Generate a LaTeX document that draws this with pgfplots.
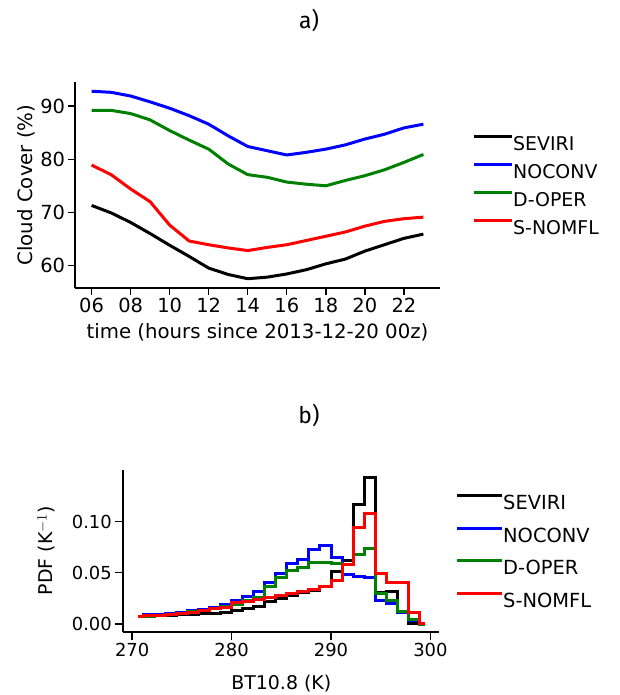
\documentclass[border=0pt]{standalone}
\usepackage{pgfplots}
\pgfplotsset{compat=1.18}
\usepackage{pgfplotstable}
\usepackage{fontspec}
\setmainfont{DejaVu Sans}
\newfontfamily\titlefont{Fira Sans}
\definecolor{mblue}{RGB}{0,0,255}
\definecolor{mgreen}{RGB}{0,128,0}
\definecolor{mred}{RGB}{255,0,0}

\pgfplotstableread{
h  sev   noc   dop   snm
6  71.3  92.8  89.2  78.9
7  69.9  92.6  89.2  77.1
8  68.1  91.9  88.6  74.4
9  66.0  90.8  87.4  72.0
10 63.8  89.6  85.4  67.6
11 61.7  88.2  83.6  64.6
12 59.5  86.6  81.9  63.9
13 58.3  84.4  79.1  63.3
14 57.5  82.4  77.1  62.8
15 57.8  81.6  76.6  63.4
16 58.4  80.8  75.7  63.9
17 59.2  81.3  75.3  64.7
18 60.3  81.9  75.0  65.5
19 61.2  82.7  76.0  66.3
20 62.7  83.8  76.9  67.4
21 63.9  84.7  78.0  68.3
22 65.1  85.9  79.4  68.8
23 65.9  86.6  80.9  69.1
}\cloud

\pgfplotstableread{
x        sev     noc     dop     snm
270.556  0.0075  0.0078  0.0070  0.0075
271.667  0.0078  0.0088  0.0078  0.0080
272.778  0.0080  0.0095  0.0085  0.0085
273.889  0.0085  0.0105  0.0095  0.0095
275.000  0.0090  0.0115  0.0105  0.0105
276.111  0.0095  0.0130  0.0120  0.0115
277.222  0.0100  0.0145  0.0130  0.0130
278.333  0.0103  0.0165  0.0150  0.0150
279.444  0.0110  0.0190  0.0170  0.0165
280.556  0.0130  0.0230  0.0190  0.0210
281.667  0.0153  0.0265  0.0230  0.0220
282.778  0.0175  0.0316  0.0260  0.0240
283.889  0.0218  0.0404  0.0365  0.0255
285.000  0.0250  0.0495  0.0456  0.0275
286.111  0.0283  0.0593  0.0527  0.0295
287.222  0.0306  0.0625  0.0555  0.0315
288.333  0.0330  0.0723  0.0600  0.0340
289.444  0.0365  0.0771  0.0600  0.0370
290.556  0.0510  0.0650  0.0595  0.0420
291.667  0.0620  0.0480  0.0580  0.0580
292.778  0.1170  0.0465  0.0680  0.0940
293.889  0.1430  0.0455  0.0740  0.1080
295.000  0.0310  0.0230  0.0300  0.0495
296.111  0.0320  0.0200  0.0230  0.0410
297.222  0.0120  0.0110  0.0120  0.0410
298.333  0.0005  0.0030  0.0040  0.0110
299.444  0.0003  0.0000  0.0000  0.0007
}\pdf

\pgfplotsset{
  myaxis/.style={
    scale only axis,
    axis x line*=bottom, axis y line*=left,
    axis line style={line width=1.6bp, black},
    tick align=outside,
    major tick length=6.5bp,
    every tick/.style={line width=1.4bp, black},
    minor tick num=0,
    /pgf/number format/assume math mode=true,
    legend cell align=left,
    clip=false,
  }
}

\begin{document}
\begin{tikzpicture}
\useasboundingbox (0bp,0bp) rectangle (620bp,695bp);

% ---------------- panel a ----------------
\begin{scope}[shift={(75bp,406.7bp)}]
\begin{axis}[myaxis,
  at={(0bp,0bp)}, anchor=south west,
  width=365bp, height=206.6bp,
  xmin=5.15, xmax=23.85, ymin=55.7, ymax=94.6,
  xtick={6,8,10,12,14,16,18,20,22},
  xticklabels={06,08,10,12,14,16,18,20,22},
  ytick={60,70,80,90},
  tick label style={font=\fontsize{19.5}{19.5}\selectfont},
  xlabel={time (hours since 2013-12-20 00z)},
  ylabel={Cloud Cover (\%)},
  label style={font=\fontsize{19.8}{19.8}\selectfont},
  xlabel style={at={(axis description cs:0.5,-0.242)}, anchor=base},
  ylabel style={at={(axis description cs:-0.1151,0.5)}, anchor=base},
  legend style={at={(axis description cs:1.0877,0.5)}, anchor=west,
    draw=none, fill=none, inner sep=0pt,
    font=\fontsize{19}{19}\selectfont,
    nodes={inner sep=0pt, text height=13.9bp, text depth=0bp},
    row sep=12.7bp,
    /tikz/every even column/.append style={column sep=13bp}},
  legend image code/.code={\draw[#1,line width=3bp] (0bp,7bp) -- (38bp,7bp);},
]
\addplot[black, line width=3bp, line join=round] table[x=h,y=sev] {\cloud};
\addlegendentry{SEVIRI}
\addplot[mblue, line width=3bp, line join=round] table[x=h,y=noc] {\cloud};
\addlegendentry{NOCONV}
\addplot[mgreen, line width=3bp, line join=round] table[x=h,y=dop] {\cloud};
\addlegendentry{D-OPER}
\addplot[mred, line width=3bp, line join=round] table[x=h,y=snm] {\cloud};
\addlegendentry{S-NOMFL}
\end{axis}
\end{scope}

% ---------------- panel b ----------------
\begin{scope}[shift={(123.3bp,63.3bp)}]
\begin{axis}[myaxis,
  at={(0bp,0bp)}, anchor=south west,
  width=316bp, height=161.7bp,
  xmin=269.11, xmax=300.89, ymin=-0.0075, ymax=0.1503,
  xtick={270,280,290,300},
  ytick={0,0.05,0.10},
  yticklabel style={/pgf/number format/.cd, fixed, fixed zerofill, precision=2},
  major tick length=8bp,
  tick label style={font=\fontsize{18}{18}\selectfont},
  xlabel={BT10.8 (K)},
  ylabel={PDF (K$^{-1}$)},
  label style={font=\fontsize{19}{19}\selectfont},
  xlabel style={at={(axis description cs:0.5,-0.3605)}, anchor=base},
  ylabel style={at={(axis description cs:-0.2225,0.5)}, anchor=base},
  legend style={at={(axis description cs:1.0497,0.5)}, anchor=west,
    draw=none, fill=none, inner sep=0pt,
    font=\fontsize{19.5}{19.5}\selectfont,
    nodes={inner sep=0pt, text height=14.2bp, text depth=0bp},
    row sep=17.1bp,
    /tikz/every even column/.append style={column sep=15bp}},
  legend image code/.code={\draw[#1,line width=3bp] (0bp,7bp) -- (45bp,7bp);},
]
\addplot[black, line width=3bp, const plot mark mid, line join=miter] table[x=x,y=sev] {\pdf};
\addlegendentry{SEVIRI}
\addplot[mblue, line width=3bp, const plot mark mid, line join=miter] table[x=x,y=noc] {\pdf};
\addlegendentry{NOCONV}
\addplot[mgreen, line width=3bp, const plot mark mid, line join=miter] table[x=x,y=dop] {\pdf};
\addlegendentry{D-OPER}
\addplot[mred, line width=3bp, const plot mark mid, line join=miter] table[x=x,y=snm] {\pdf};
\addlegendentry{S-NOMFL}
\end{axis}
\end{scope}

\node[font=\titlefont\fontsize{23}{23}\selectfont, anchor=base] at (309bp,666.7bp) {a)};
\node[font=\titlefont\fontsize{23}{23}\selectfont, anchor=base] at (309bp,271bp) {b)};
\end{tikzpicture}
\end{document}
